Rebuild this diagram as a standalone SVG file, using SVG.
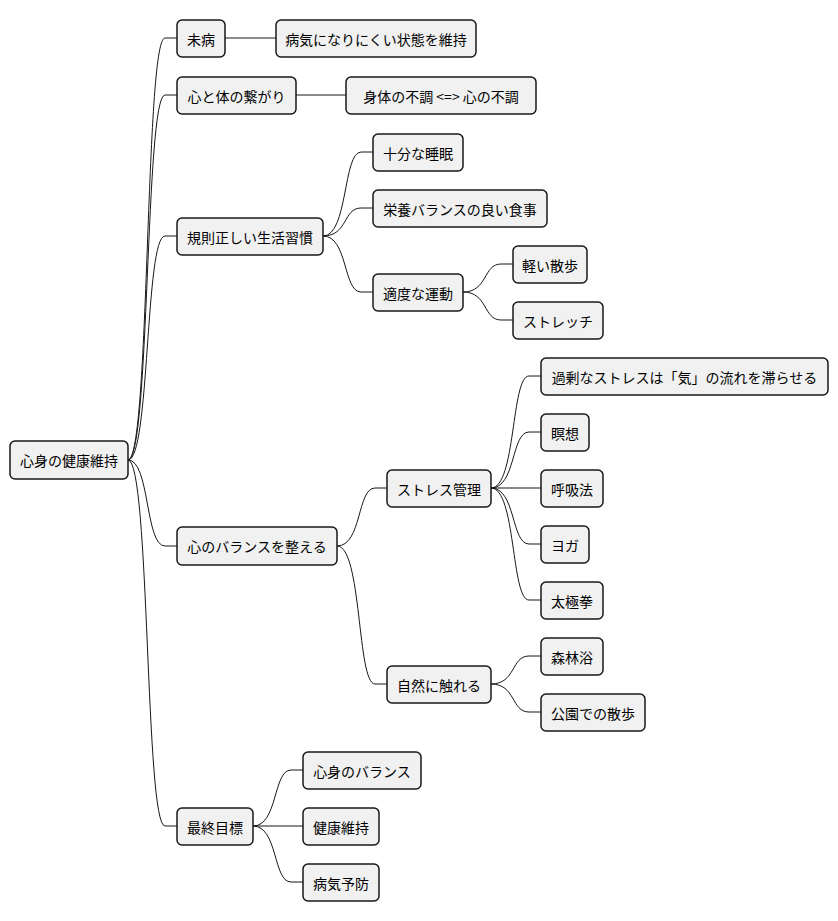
<svg xmlns="http://www.w3.org/2000/svg" width="838" height="921" viewBox="0 0 838 921">
<style>
.n rect{fill:#f1f1f1;stroke:#181818;stroke-width:1.5}
.n text{font-family:"Noto Sans CJK JP","Liberation Sans",sans-serif;font-size:14px;fill:#000;text-anchor:middle;dominant-baseline:central}
.c path{fill:none;stroke:#181818;stroke-width:1}
</style>
<rect width="838" height="921" fill="#fff"/>
<g class="c">
<path d="M128,460 C150,460 145,38 165,38 L177,38"/>
<path d="M128,460 C150,460 145,95 165,95 L177,95"/>
<path d="M128,460 C150,460 145,236 165,236 L177,236"/>
<path d="M128,460 C150,460 145,546 165,546 L177,546"/>
<path d="M128,460 C150,460 145,826 165,826 L177,826"/>
<path d="M225,38 L276,38"/>
<path d="M296,95 L346,95"/>
<path d="M323,236 C348,236 343,152 361,152 L373,152"/>
<path d="M323,236 C348,236 343,208 361,208 L373,208"/>
<path d="M323,236 C348,236 343,292 361,292 L373,292"/>
<path d="M463,292 C488,292 483,264 501,264 L513,264"/>
<path d="M463,292 C488,292 483,320 501,320 L513,320"/>
<path d="M337,546 C362,546 357,488 375,488 L387,488"/>
<path d="M337,546 C362,546 357,684 375,684 L387,684"/>
<path d="M491,488 C516,488 511,376 529,376 L541,376"/>
<path d="M491,488 C516,488 511,432 529,432 L541,432"/>
<path d="M491,488 L541,488"/>
<path d="M491,488 C516,488 511,544 529,544 L541,544"/>
<path d="M491,488 C516,488 511,600 529,600 L541,600"/>
<path d="M491,684 C516,684 511,656 529,656 L541,656"/>
<path d="M491,684 C516,684 511,712 529,712 L541,712"/>
<path d="M253,826 C278,826 273,770 291,770 L303,770"/>
<path d="M253,826 L303,826"/>
<path d="M253,826 C278,826 273,882 291,882 L303,882"/>
</g>
<g class="n" id="root"><rect x="10" y="441" width="118" height="38" rx="5"/><text x="69" y="460">心身の健康維持</text></g>
<g class="n" id="n1"><rect x="177" y="20" width="48" height="37" rx="5"/><text x="201" y="38.5">未病</text></g>
<g class="n" id="n1a"><rect x="276" y="20" width="200" height="37" rx="5"/><text x="376" y="38.5">病気になりにくい状態を維持</text></g>
<g class="n" id="n2"><rect x="177" y="77" width="119" height="37" rx="5"/><text x="236.5" y="95.5">心と体の繋がり</text></g>
<g class="n" id="n2a"><rect x="346" y="77" width="190" height="37" rx="5"/><text x="441" y="95.5">身体の不調 &lt;=&gt; 心の不調</text></g>
<g class="n" id="n3"><rect x="177" y="218" width="146" height="37" rx="5"/><text x="250" y="236.5">規則正しい生活習慣</text></g>
<g class="n" id="n3a"><rect x="373" y="134" width="90" height="37" rx="5"/><text x="418" y="152.5">十分な睡眠</text></g>
<g class="n" id="n3b"><rect x="373" y="190" width="174" height="37" rx="5"/><text x="460" y="208.5">栄養バランスの良い食事</text></g>
<g class="n" id="n3c"><rect x="373" y="274" width="90" height="37" rx="5"/><text x="418" y="292.5">適度な運動</text></g>
<g class="n" id="n3c1"><rect x="513" y="246" width="74" height="37" rx="5"/><text x="550" y="264.5">軽い散歩</text></g>
<g class="n" id="n3c2"><rect x="513" y="302" width="90" height="37" rx="5"/><text x="558" y="320.5">ストレッチ</text></g>
<g class="n" id="n4"><rect x="177" y="527" width="160" height="38" rx="5"/><text x="257" y="546">心のバランスを整える</text></g>
<g class="n" id="n4a"><rect x="387" y="470" width="104" height="37" rx="5"/><text x="439" y="488.5">ストレス管理</text></g>
<g class="n" id="n4a1"><rect x="541" y="358" width="287" height="37" rx="5"/><text x="684.5" y="376.5">過剰なストレスは「気」の流れを滞らせる</text></g>
<g class="n" id="n4a2"><rect x="541" y="414" width="48" height="37" rx="5"/><text x="565" y="432.5">瞑想</text></g>
<g class="n" id="n4a3"><rect x="541" y="470" width="62" height="37" rx="5"/><text x="572" y="488.5">呼吸法</text></g>
<g class="n" id="n4a4"><rect x="541" y="526" width="48" height="37" rx="5"/><text x="565" y="544.5">ヨガ</text></g>
<g class="n" id="n4a5"><rect x="541" y="582" width="62" height="37" rx="5"/><text x="572" y="600.5">太極拳</text></g>
<g class="n" id="n4b"><rect x="387" y="666" width="104" height="37" rx="5"/><text x="439" y="684.5">自然に触れる</text></g>
<g class="n" id="n4b1"><rect x="541" y="638" width="62" height="37" rx="5"/><text x="572" y="656.5">森林浴</text></g>
<g class="n" id="n4b2"><rect x="541" y="694" width="104" height="37" rx="5"/><text x="593" y="712.5">公園での散歩</text></g>
<g class="n" id="n5"><rect x="177" y="808" width="76" height="37" rx="5"/><text x="215" y="826.5">最終目標</text></g>
<g class="n" id="n5a"><rect x="303" y="752" width="118" height="37" rx="5"/><text x="362" y="770.5">心身のバランス</text></g>
<g class="n" id="n5b"><rect x="303" y="808" width="76" height="37" rx="5"/><text x="341" y="826.5">健康維持</text></g>
<g class="n" id="n5c"><rect x="303" y="864" width="76" height="37" rx="5"/><text x="341" y="882.5">病気予防</text></g>
</svg>
